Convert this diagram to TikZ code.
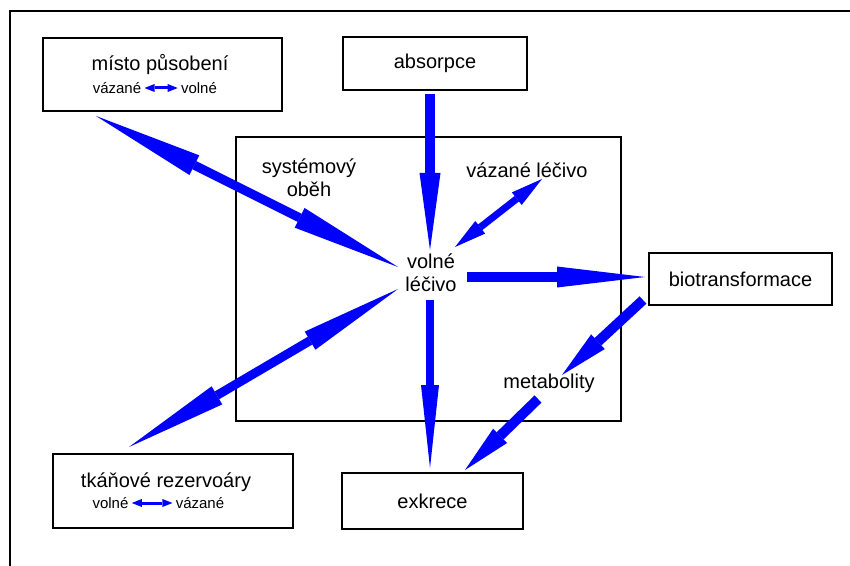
\documentclass[tikz,border=0pt]{standalone}
\usepackage{fontspec}
\setmainfont{Liberation Sans}
\usetikzlibrary{arrows.meta}
\tikzset{
  box/.style={draw, line width=1pt, inner sep=0pt, font=\fontsize{10}{11.5}\selectfont},
  lbl/.style={inner sep=0pt, align=center, font=\fontsize{10}{11.5}\selectfont},
  sublbl/.style={inner sep=1.5pt, font=\fontsize{7.5}{9}\selectfont},
  onearrow/.style n args={3}{draw=blue, line width=#1, -{Triangle[length=#2, width=#3, line width=0pt]}},
  twoarrow/.style n args={3}{draw=blue, line width=#1,
    {Triangle[length=#2, width=#3, line width=0pt]}-{Triangle[length=#2, width=#3, line width=0pt]}},
  smallarrow/.style={twoarrow={1.5pt}{5pt}{4pt}}
}

\begin{document}
\begin{tikzpicture}[x=0.5pt, y=-0.5pt]
  \useasboundingbox (0,0) rectangle (850,566);
  % frame
  \draw[line width=1pt] (10,566) -- (10,11) -- (850,11);
  % boxes
  \node[box, minimum width=192.5pt, minimum height=142pt] (obeh) at (428.5,279) {};
  \node[box, minimum width=119.5pt, minimum height=36.5pt] (misto) at (162.5,74.5) {};
  \node[box, minimum width=92pt, minimum height=26.5pt] (absorpce) at (435,63.5) {absorpce};
  \node[box, minimum width=91.5pt, minimum height=26pt] (biotrans) at (740.5,279) {biotransformace};
  \node[box, minimum width=90.5pt, minimum height=28pt] (exkrece) at (432.5,501) {exkrece};
  \node[box, minimum width=120pt, minimum height=37pt] (tkane) at (173,491) {};
  % labels
  \node[lbl] (obeh-t) at (309,178) {systémový\\oběh};
  \node[lbl] (vazane) at (527,170) {vázané léčivo};
  \node[lbl] (volne) at (431,273) {volné\\léčivo};
  \node[lbl] (metab) at (549,383) {metabolity};
  \node[lbl] (misto-t) at (160,65) {místo působení};
  \node[sublbl] (misto-a) at (117,88) {vázané};
  \node[sublbl] (misto-b) at (199,88) {volné};
  \node[lbl] (tkane-t) at (166,482) {tkáňové rezervoáry};
  \node[sublbl] (tkane-a) at (110.5,503) {volné};
  \node[sublbl] (tkane-b) at (200,503) {vázané};
  % arrow ends
  \coordinate (abs-out) at (430,94);
  \coordinate (vol-n) at (430,250);
  \coordinate (vol-s) at (430,300);
  \coordinate (exk-n) at (430,468);
  \coordinate (vol-e) at (467,277);
  \coordinate (bio-w) at (645,277);
  \coordinate (bio-sw) at (643,300);
  \coordinate (met-ne) at (562,375);
  \coordinate (met-sw) at (538,399);
  \coordinate (exk-ne) at (465,470);
  \coordinate (mis-se) at (96,116);
  \coordinate (vol-nw) at (398,267);
  \coordinate (vol-sw) at (398,289);
  \coordinate (tka-ne) at (129,447);
  \coordinate (vol-ne) at (455,247);
  \coordinate (vaz-sw) at (542,179);
  % arrows
  \draw[onearrow={5pt}{38.5pt}{10.5pt}] (abs-out) -- (vol-n);
  \draw[onearrow={4pt}{41.5pt}{9pt}] (vol-s) -- (exk-n);
  \draw[onearrow={5pt}{44pt}{10.5pt}] (vol-e) -- (bio-w);
  \draw[onearrow={5pt}{24.5pt}{10pt}] (bio-sw) -- (met-ne);
  \draw[onearrow={5pt}{24.5pt}{10pt}] (met-sw) -- (exk-ne);
  \draw[twoarrow={4.5pt}{55pt}{11pt}] (mis-se) -- (vol-nw);
  \draw[twoarrow={4.5pt}{51pt}{10.5pt}] (vol-sw) -- (tka-ne);
  \draw[twoarrow={3.5pt}{16pt}{8pt}] (vol-ne) -- (vaz-sw);
  \draw[smallarrow] (misto-a) -- (misto-b);
  \draw[smallarrow] (tkane-a) -- (tkane-b);
\end{tikzpicture}
\end{document}
